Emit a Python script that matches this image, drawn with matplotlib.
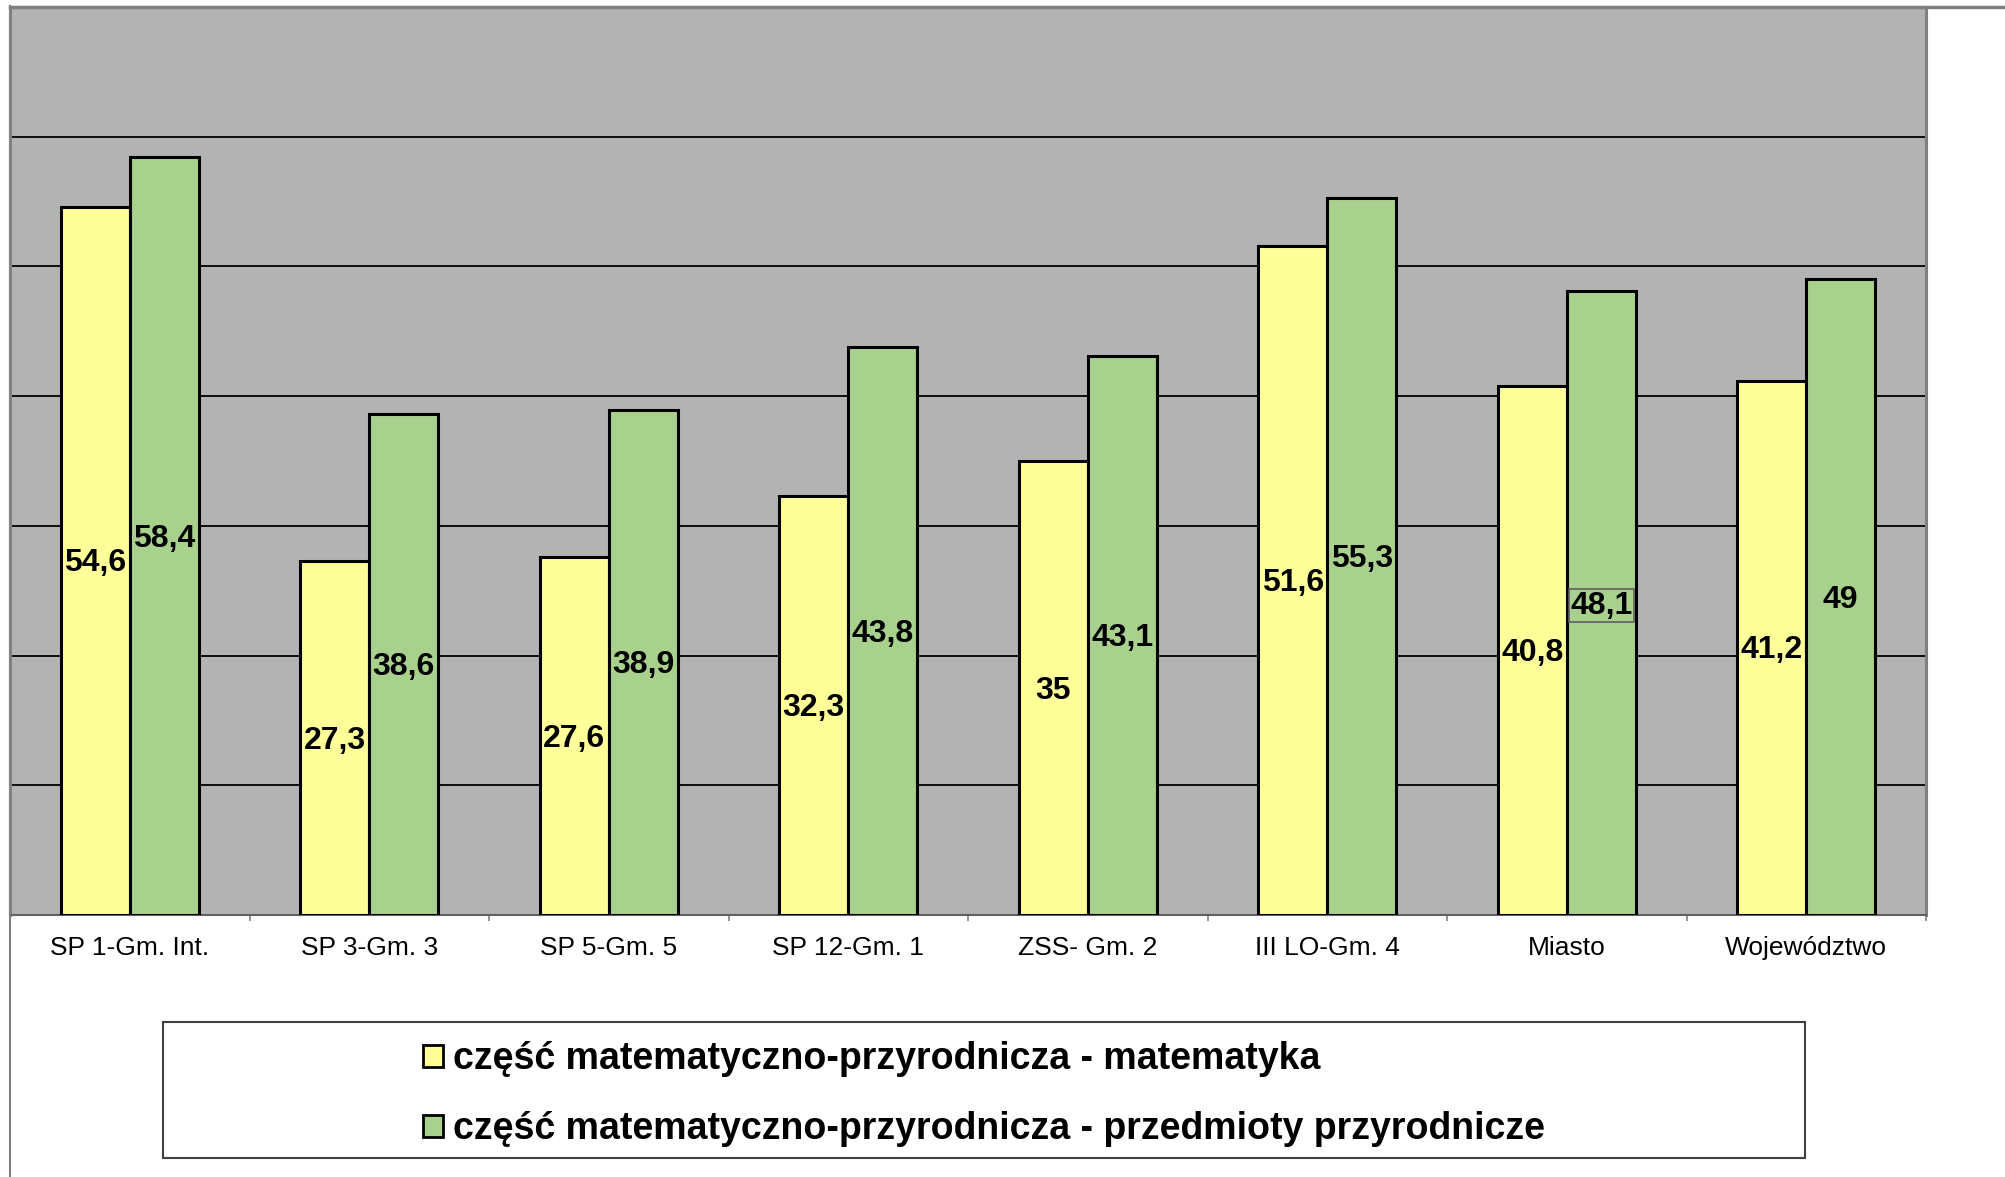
import matplotlib
matplotlib.use("Agg")
import matplotlib.pyplot as plt
import numpy as np
from matplotlib.patches import Rectangle
from matplotlib.lines import Line2D

plt.rcParams['font.family'] = ['Liberation Sans', 'DejaVu Sans']

categories = ["SP 1-Gm. Int.", "SP 3-Gm. 3", "SP 5-Gm. 5", "SP 12-Gm. 1",
              "ZSS- Gm. 2", "III LO-Gm. 4", "Miasto", "Województwo"]
matematyka = [54.6, 27.3, 27.6, 32.3, 35, 51.6, 40.8, 41.2]
przyrodnicze = [58.4, 38.6, 38.9, 43.8, 43.1, 55.3, 48.1, 49]
value_labels_mat = ["54,6", "27,3", "27,6", "32,3", "35", "51,6", "40,8", "41,2"]
value_labels_prz = ["58,4", "38,6", "38,9", "43,8", "43,1", "55,3", "48,1", "49"]
series_names = ["część matematyczno-przyrodnicza - matematyka",
                "część matematyczno-przyrodnicza - przedmioty przyrodnicze"]

W, H = 2005, 1177
fig = plt.figure(figsize=(W / 100, H / 100), dpi=100)
fig.patch.set_facecolor("white")

ax = fig.add_axes([10 / W, 1 - 915 / H, (1926 - 10) / W, (915 - 7) / H])
ax.set_facecolor("#B3B3B3")

x = np.arange(len(categories))
bw = 0.288
yellow = "#FFFF99"
green = "#A9D18E"
b1 = ax.bar(x - bw / 2, matematyka, bw, color=yellow, edgecolor="black",
            linewidth=2.2, label=series_names[0], zorder=3)
b2 = ax.bar(x + bw / 2, przyrodnicze, bw, color=green, edgecolor="black",
            linewidth=2.2, label=series_names[1], zorder=3)

ax.set_xlim(-0.5, len(categories) - 0.5)
ax.set_ylim(0, 70)
ax.set_yticks(np.arange(0, 71, 10))
ax.yaxis.grid(True, color="black", linewidth=1.3, zorder=1)
ax.set_axisbelow(True)
ax.tick_params(axis="y", left=False, labelleft=False)

ax.set_xticks(np.arange(len(categories) + 1) - 0.5)
ax.set_xticklabels([])
ax.tick_params(axis="x", which="major", direction="out", length=4.5,
               width=1.2, color="#808080")
ax.set_xticks(x, minor=True)
ax.set_xticklabels(categories, minor=True, fontsize=19)
ax.tick_params(axis="x", which="minor", length=0, pad=15)

for s in ["left", "right"]:
    ax.spines[s].set_color("#808080")
    ax.spines[s].set_linewidth(2.2)
ax.spines["top"].set_color("#404040")
ax.spines["top"].set_linewidth(2.2)
ax.spines["bottom"].set_color("#606060")
ax.spines["bottom"].set_linewidth(1.5)

for i in range(len(categories)):
    ax.text(x[i] - bw / 2, matematyka[i] / 2 - 0.2, value_labels_mat[i], ha="center",
            va="center", fontsize=23, fontweight="bold", zorder=5)
    kw = {}
    if categories[i] == "Miasto":
        kw["bbox"] = dict(boxstyle="square,pad=0.05", facecolor="none",
                          edgecolor="#606060", linewidth=1.2)
    ax.text(x[i] + bw / 2, przyrodnicze[i] / 2 - 0.2, value_labels_prz[i], ha="center",
            va="center", fontsize=23, fontweight="bold", zorder=5, **kw)

# chart-area border lines
fig.add_artist(Line2D([10 / W, 10 / W], [0, 1 - 6 / H], color="#808080",
                      linewidth=1.5, transform=fig.transFigure))
fig.add_artist(Line2D([10 / W, 1], [1 - 7 / H, 1 - 7 / H], color="#808080",
                      linewidth=2.5, transform=fig.transFigure))

# legend box
lx0, lx1, ly0, ly1 = 163, 1805, 1022, 1158
fig.add_artist(Rectangle((lx0 / W, 1 - ly1 / H), (lx1 - lx0) / W, (ly1 - ly0) / H,
                         transform=fig.transFigure, facecolor="white",
                         edgecolor="#404040", linewidth=1.5))
leg = fig.legend(handles=[b1, b2], loc="center",
                 bbox_to_anchor=((lx0 + lx1) / 2 / W, 1 - ((ly0 + ly1) / 2 + 4) / H),
                 frameon=False, prop={"size": 27, "weight": "bold"},
                 handlelength=0.52, handleheight=0.52, handletextpad=0.28,
                 labelspacing=0.9, borderpad=0)
for h in leg.legend_handles:
    h.set_linewidth(2)

fig.savefig("out.png", dpi=100, facecolor="white")
